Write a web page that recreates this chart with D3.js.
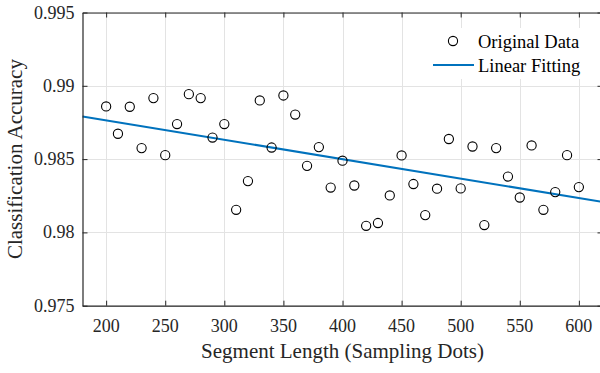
<!DOCTYPE html>
<html lang="en">
<head>
    <meta charset="UTF-8">
    <title>Classification Accuracy vs Segment Length</title>
    <script src="https://d3js.org/d3.v7.min.js"></script>
    <style>
        body {
            margin: 0;
            background: #fff;
        }
        svg {
            display: block;
            font-family: "Liberation Serif", "Times New Roman", serif;
        }
        .grid line {
            stroke: #e3e3e3;
            stroke-width: 1;
        }
        .axis path, .axis line {
            stroke: #262626;
        }
        .tick-label {
            font-size: 18px;
            fill: #262626;
        }
        .axis-label {
            font-size: 21px;
            fill: #262626;
        }
        .dot {
            fill: none;
            stroke: #000;
            stroke-width: 1.1;
        }
        .fit {
            stroke: #0072bd;
            stroke-width: 2;
            fill: none;
        }
        .legend text {
            font-size: 18.5px;
            fill: #000;
        }
    </style>
</head>
<body>
<script>
    // data
    var segLength = [200, 210, 220, 230, 240, 250, 260, 270, 280, 290,
        300, 310, 320, 330, 340, 350, 360, 370, 380, 390,
        400, 410, 420, 430, 440, 450, 460, 470, 480, 490,
        500, 510, 520, 530, 540, 550, 560, 570, 580, 590, 600];
    var accuracy = [0.98859, 0.98673, 0.98857, 0.98575, 0.98916, 0.98527, 0.98739, 0.98943, 0.98916, 0.98647,
        0.98739, 0.98154, 0.98350, 0.98900, 0.98579, 0.98934, 0.98804, 0.98454, 0.98582, 0.98306,
        0.98489, 0.98320, 0.98045, 0.98064, 0.98252, 0.98525, 0.98330, 0.98118, 0.98298, 0.98637,
        0.98300, 0.98586, 0.98050, 0.98575, 0.98381, 0.98238, 0.98593, 0.98154, 0.98275, 0.98527, 0.98309];
    // end points of the linear fit as drawn
    var fitX = [180, 620];
    var fitY = [0.98791, 0.98208];
    var xTicks = [200, 250, 300, 350, 400, 450, 500, 550, 600];
    var yTicks = [0.975, 0.98, 0.985, 0.99, 0.995];
    var yTickLabels = ["0.975", "0.98", "0.985", "0.99", "0.995"];
    var legendNames = ["Original Data", "Linear Fitting"];

    var W = 600, H = 373;
    var plotL = 82.5, plotT = 12.5, plotR = 602.5, plotB = 305.7;

    var svg = d3.select("body").append("svg")
        .attr("width", W)
        .attr("height", H);

    var x = d3.scaleLinear().domain([180, 620]).range([plotL, plotR]);
    var y = d3.scaleLinear().domain([0.975, 0.995]).range([plotB, plotT]);

    // grid
    var grid = svg.append("g").attr("class", "grid");
    grid.selectAll(".gx").data(xTicks).enter().append("line")
        .attr("x1", function(d) { return Math.round(x(d)) + 0.5; })
        .attr("x2", function(d) { return Math.round(x(d)) + 0.5; })
        .attr("y1", plotT).attr("y2", plotB);
    grid.selectAll(".gy").data(yTicks).enter().append("line")
        .attr("y1", function(d) { return Math.round(y(d)) + 0.5; })
        .attr("y2", function(d) { return Math.round(y(d)) + 0.5; })
        .attr("x1", plotL).attr("x2", plotR);

    // fit line
    svg.append("line")
        .attr("class", "fit")
        .attr("x1", x(fitX[0])).attr("y1", y(fitY[0]))
        .attr("x2", x(fitX[1])).attr("y2", y(fitY[1]));

    // points
    svg.selectAll(".pt")
        .data(segLength)
        .enter()
        .append("circle")
        .attr("class", "dot")
        .attr("cx", function(d) { return x(d); })
        .attr("cy", function(d, i) { return y(accuracy[i]); })
        .attr("r", 4.6);

    // axes: ticks inside, box on; labels drawn separately below
    function box(axis, tx, ty) {
        svg.append("g")
            .attr("class", "axis")
            .attr("transform", "translate(" + tx + "," + ty + ")")
            .call(axis.tickSizeInner(-5).tickSizeOuter(0).tickFormat(""));
    }
    box(d3.axisBottom(x).tickValues(xTicks), 0, plotB);
    box(d3.axisTop(x).tickValues(xTicks), 0, plotT);
    box(d3.axisLeft(y).tickValues(yTicks), plotL, 0);
    box(d3.axisRight(y).tickValues(yTicks), plotR, 0);
    svg.selectAll(".axis path").attr("stroke-width", 1.2);

    svg.selectAll(".xlab")
        .data(xTicks)
        .enter()
        .append("text")
        .attr("class", "tick-label")
        .attr("x", function(d) { return x(d); })
        .attr("y", plotB + 26)
        .attr("text-anchor", "middle")
        .text(function(d) { return d; });

    svg.selectAll(".ylab")
        .data(yTicks)
        .enter()
        .append("text")
        .attr("class", "tick-label")
        .attr("x", plotL - 8)
        .attr("y", function(d) { return y(d) + 6; })
        .attr("text-anchor", "end")
        .text(function(d, i) { return yTickLabels[i]; });

    // axis labels
    svg.append("text")
        .attr("class", "axis-label")
        .attr("x", (plotL + plotR) / 2)
        .attr("y", 358)
        .attr("text-anchor", "middle")
        .text("Segment Length (Sampling Dots)");

    svg.append("text")
        .attr("class", "axis-label")
        .attr("transform", "translate(22," + ((plotT + plotB) / 2) + ") rotate(-90)")
        .attr("text-anchor", "middle")
        .text("Classification Accuracy");

    // legend
    var legend = svg.append("g").attr("class", "legend");
    legend.append("rect")
        .attr("x", 428).attr("y", 28)
        .attr("width", 172).attr("height", 51)
        .attr("fill", "#fff");
    legend.append("circle")
        .attr("class", "dot")
        .attr("cx", 453).attr("cy", 41).attr("r", 4.6);
    legend.append("line")
        .attr("class", "fit")
        .attr("x1", 433).attr("x2", 474)
        .attr("y1", 65).attr("y2", 65);
    legend.selectAll("text")
        .data(legendNames)
        .enter()
        .append("text")
        .attr("x", 478)
        .attr("y", function(d, i) { return 48 + i * 24; })
        .text(function(d) { return d; });
</script>
</body>
</html>
